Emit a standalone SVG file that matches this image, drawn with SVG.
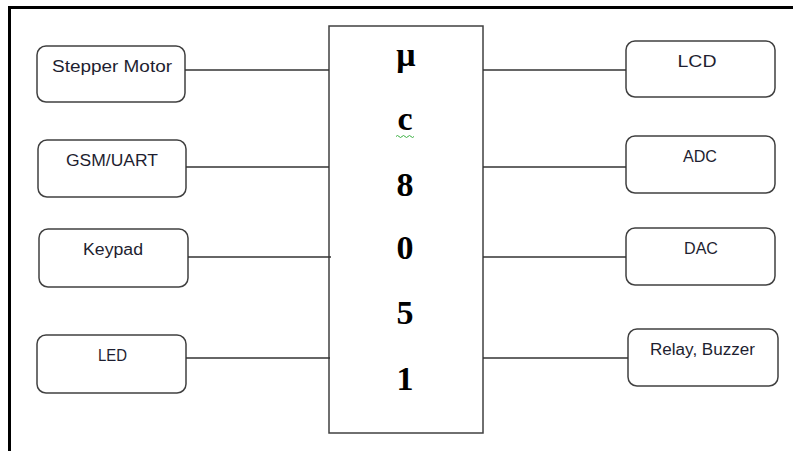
<svg xmlns="http://www.w3.org/2000/svg" width="793" height="451" viewBox="0 0 793 451">
<style>
.box{fill:#fff;stroke:#404040;stroke-width:1.5}
.lbl{font-family:"Liberation Sans",Arial,sans-serif;font-size:16px;fill:#1e1e30;text-anchor:middle}
.chip{font-family:"Liberation Serif","Times New Roman",serif;font-size:34px;font-weight:bold;fill:#000;text-anchor:middle}
.wire{stroke:#333;stroke-width:1.5;fill:none}
</style>
<rect width="793" height="451" fill="#fff"/>
<path d="M9.5 451 V7.5 H793" fill="none" stroke="#000" stroke-width="3"/>
<g id="mcu">
<rect class="box" x="329" y="26" width="154" height="407" rx="0"/>
<text class="chip" x="406" y="66">μ</text>
<text class="chip" x="405" y="130">c</text>
<path d="M396 136.5 q1.5 -2 3 0 t3 0 t3 0 t3 0 t3 0 t3 0" fill="none" stroke="#3cb043" stroke-width="1"/>
<text class="chip" x="405" y="196">8</text>
<text class="chip" x="405" y="259">0</text>
<text class="chip" x="405" y="324">5</text>
<text class="chip" x="405" y="390">1</text>
</g>
<g id="stepper"><rect class="box" x="37" y="46" width="148" height="56" rx="9"/><text class="lbl" x="112" y="72" textLength="120" lengthAdjust="spacingAndGlyphs">Stepper Motor</text></g>
<g id="gsm"><rect class="box" x="38" y="140" width="148" height="57" rx="9"/><text class="lbl" x="112" y="166" textLength="92" lengthAdjust="spacingAndGlyphs">GSM/UART</text></g>
<g id="keypad"><rect class="box" x="39" y="229" width="149" height="58" rx="9"/><text class="lbl" x="113" y="255" textLength="60" lengthAdjust="spacingAndGlyphs">Keypad</text></g>
<g id="led"><rect class="box" x="37" y="335" width="149" height="58" rx="9"/><text class="lbl" x="112.5" y="361" textLength="29" lengthAdjust="spacingAndGlyphs">LED</text></g>
<g id="lcd"><rect class="box" x="626" y="41" width="149" height="56" rx="9"/><text class="lbl" x="697" y="67" textLength="39" lengthAdjust="spacingAndGlyphs">LCD</text></g>
<g id="adc"><rect class="box" x="626" y="136" width="149" height="57" rx="9"/><text class="lbl" x="700" y="162" textLength="34" lengthAdjust="spacingAndGlyphs">ADC</text></g>
<g id="dac"><rect class="box" x="626" y="228" width="149" height="57" rx="9"/><text class="lbl" x="701" y="254" textLength="34" lengthAdjust="spacingAndGlyphs">DAC</text></g>
<g id="relay"><rect class="box" x="628" y="329" width="150" height="57" rx="9"/><text class="lbl" x="702.5" y="355" textLength="105" lengthAdjust="spacingAndGlyphs">Relay, Buzzer</text></g>
<g id="connectors">
<line class="wire" x1="185" y1="70" x2="329" y2="70"/>
<line class="wire" x1="186" y1="167" x2="329" y2="167"/>
<line class="wire" x1="188" y1="257" x2="331" y2="257"/>
<line class="wire" x1="186" y1="358" x2="330" y2="358"/>
<line class="wire" x1="483" y1="70" x2="626" y2="70"/>
<line class="wire" x1="483" y1="167" x2="626" y2="167"/>
<line class="wire" x1="483" y1="257" x2="626" y2="257"/>
<line class="wire" x1="483" y1="358" x2="628" y2="358"/>
</g>
</svg>
